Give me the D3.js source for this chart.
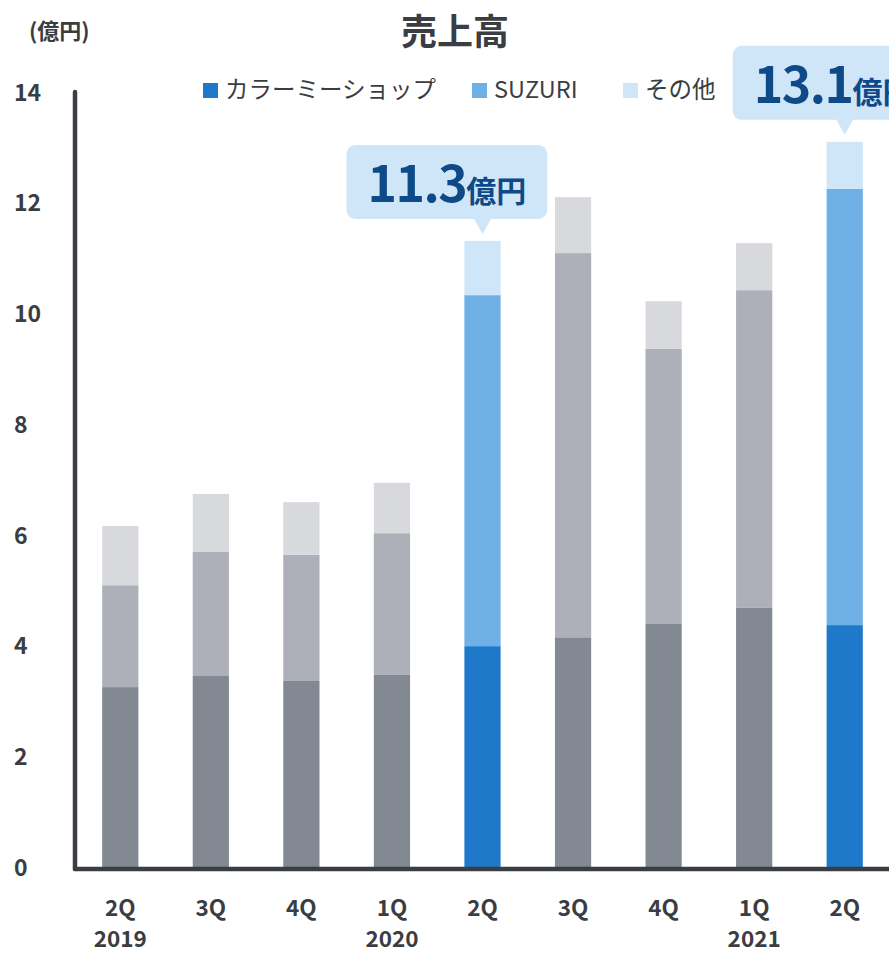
<!DOCTYPE html>
<html>
<head>
<meta charset="utf-8">
<script src="https://cdn.jsdelivr.net/npm/d3@7"></script>
<style>
  html, body { margin: 0; padding: 0; background: #fff; overflow: hidden; }
  svg { display: block; }
  text { font-family: "Noto Sans CJK JP", "Noto Sans", sans-serif; }
</style>
</head>
<body>
<svg id="chart" width="889" height="953"></svg>
<script>
// ---- data ----
const quarters = ["2Q", "3Q", "4Q", "1Q", "2Q", "3Q", "4Q", "1Q", "2Q"];
const years = ["2019", "", "", "2020", "", "", "", "2021", ""];
const seriesNames = ["カラーミーショップ", "SUZURI", "その他"];
const colorMeShop = [3.25, 3.45, 3.36, 3.47, 3.99, 4.15, 4.39, 4.68, 4.37];
const suzuri =      [1.84, 2.24, 2.28, 2.56, 6.34, 6.94, 4.97, 5.74, 7.88];
const others =      [1.07, 1.05, 0.95, 0.91, 0.98, 1.01, 0.86, 0.85, 0.85];
const highlighted = [false, false, false, false, true, false, false, false, true];
const yTicks = [0, 2, 4, 6, 8, 10, 12, 14];
const callouts = [
  { index: 4, value: "11.3", unit: "億円" },
  { index: 8, value: "13.1", unit: "億円" }
];

// ---- styles ----
const blueColors = ["#1e79cb", "#6fb0e7", "#cfe5f8"];
const grayColors = ["#828993", "#adb0b8", "#d8d9dd"];
const ink = "#3a3d42";
const calloutBg = "#cfe5f8";
const calloutInk = "#0e4a88";
const calloutDx = [136, 112];

const svg = d3.select("#chart");

const x = d3.scaleBand()
  .domain(d3.range(quarters.length))
  .range([75, 890])
  .paddingInner(0.6)
  .paddingOuter(0.3);

const y = d3.scaleLinear().domain([0, 14]).range([867, 92]);

// stacked data
const rows = quarters.map((q, i) => ({ i, s0: colorMeShop[i], s1: suzuri[i], s2: others[i] }));
const stack = d3.stack().keys(["s0", "s1", "s2"]);
const layers = stack(rows);

svg.append("g").selectAll("g")
  .data(layers)
  .join("g")
  .each(function(layer, li) {
    d3.select(this).selectAll("rect")
      .data(layer)
      .join("rect")
      .attr("x", d => x(d.data.i))
      .attr("width", x.bandwidth())
      .attr("y", d => y(d[1]))
      .attr("height", d => y(d[0]) - y(d[1]))
      .attr("fill", d => (highlighted[d.data.i] ? blueColors : grayColors)[li]);
  });

// y axis
const yAxis = d3.axisLeft(y).tickValues(yTicks).tickSize(0).tickPadding(0);
const yg = svg.append("g").attr("transform", "translate(75,0)").call(yAxis);
yg.select(".domain").remove();
yg.selectAll(".tick text")
  .attr("x", -61)
  .attr("text-anchor", "start")
  .attr("dy", "0.36em")
  .attr("fill", ink)
  .style("font-size", "23px")
  .style("font-weight", "700");

svg.append("line")
  .attr("x1", 75).attr("x2", 75)
  .attr("y1", y(14)).attr("y2", 869)
  .attr("stroke", ink).attr("stroke-width", 4.5).attr("stroke-linecap", "round");

// x axis
const xAxis = d3.axisBottom(x).tickSize(0).tickFormat(i => quarters[i]);
const xg = svg.append("g").attr("transform", "translate(0,869)").call(xAxis);
xg.select(".domain").remove();
xg.selectAll(".tick text")
  .attr("y", 47)
  .attr("dy", 0)
  .attr("fill", ink)
  .style("font-size", "22.5px")
  .style("font-weight", "700");
xg.selectAll(".tick").append("text")
  .attr("y", 78)
  .attr("text-anchor", "middle")
  .attr("fill", ink)
  .style("font-size", "22.5px")
  .style("font-weight", "700")
  .text(d => years[d]);

svg.append("line")
  .attr("x1", 75).attr("x2", 900)
  .attr("y1", 869).attr("y2", 869)
  .attr("stroke", ink).attr("stroke-width", 4.5).attr("stroke-linecap", "round");

// title & unit
svg.append("text")
  .attr("x", 455).attr("y", 45)
  .attr("text-anchor", "middle")
  .attr("fill", ink)
  .style("font-size", "36px")
  .style("font-weight", "700")
  .text("売上高");

svg.append("text")
  .attr("x", 29).attr("y", 39)
  .attr("fill", ink)
  .style("font-size", "22px")
  .style("font-weight", "700")
  .text("(億円)");

// legend
const legendX = [203, 472, 623];
const legend = svg.append("g");
seriesNames.forEach((name, k) => {
  legend.append("rect")
    .attr("x", legendX[k]).attr("y", 83)
    .attr("width", 15).attr("height", 15)
    .attr("fill", blueColors[k]);
  legend.append("text")
    .attr("x", legendX[k] + 22).attr("y", 98)
    .attr("fill", ink)
    .style("font-size", "23.5px")
    .style("font-weight", "400")
    .text(name);
});

// callouts
callouts.forEach((c, k) => {
  const cx = x(c.index) + x.bandwidth() / 2;
  const top = y(rows[c.index].s0 + rows[c.index].s1 + rows[c.index].s2);
  const tipY = top - 7;
  const boxBottom = tipY - 15;
  const boxTop = boxBottom - 74;
  const g = svg.append("g");
  const txt = g.append("text")
    .attr("x", cx - calloutDx[k] + 21)
    .attr("y", boxTop + 57)
    .attr("fill", calloutInk)
    .style("font-weight", "700");
  txt.append("tspan").style("font-size", "50px").attr("letter-spacing", "-1.5px").text(c.value);
  txt.append("tspan").style("font-size", "30px").attr("dx", 0).text(c.unit);
  const w = txt.node().getComputedTextLength() + 42;
  g.insert("rect", "text")
    .attr("x", cx - calloutDx[k]).attr("y", boxTop)
    .attr("width", w).attr("height", 74)
    .attr("rx", 9)
    .attr("fill", calloutBg);
  g.insert("path", "text")
    .attr("d", `M${cx - 9},${boxBottom - 1} L${cx + 9},${boxBottom - 1} L${cx},${tipY} Z`)
    .attr("fill", calloutBg);
});
</script>
</body>
</html>
